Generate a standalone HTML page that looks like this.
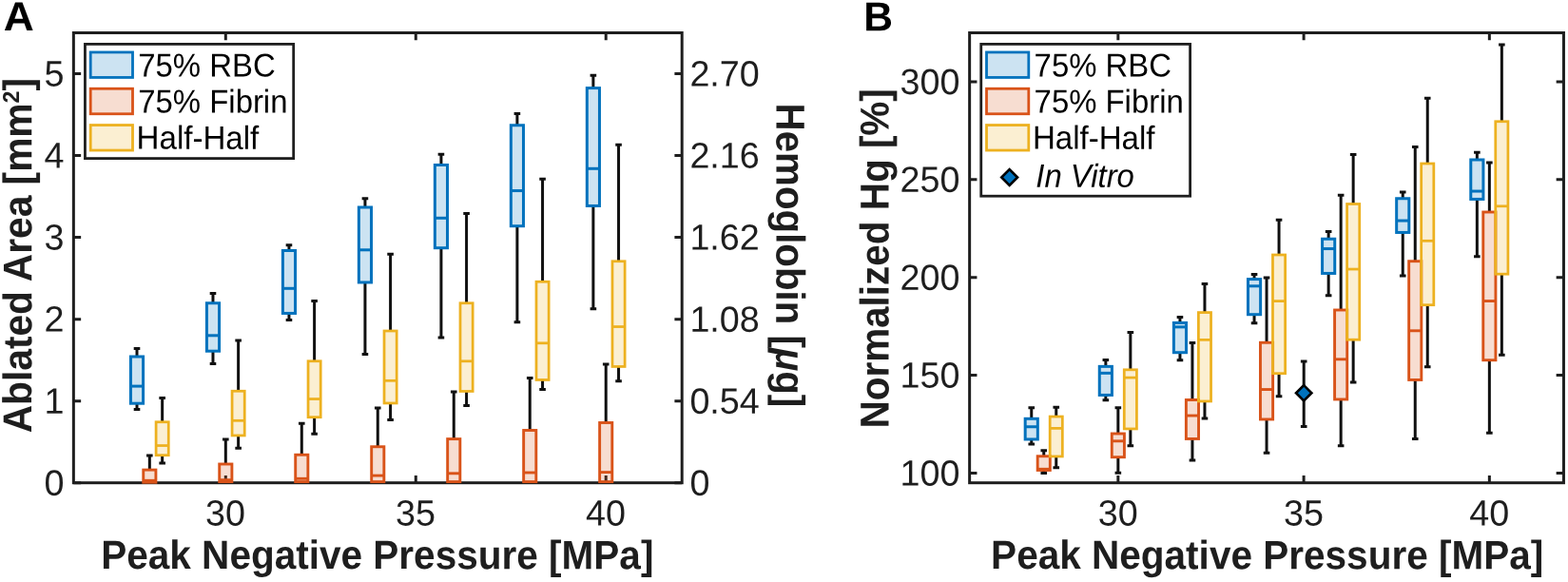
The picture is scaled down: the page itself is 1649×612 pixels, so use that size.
<!DOCTYPE html>
<html lang="en"><head><meta charset="utf-8"><title>Figure</title>
<style>
html,body{margin:0;padding:0;background:#fff;}
body{width:1649px;height:612px;overflow:hidden;}
svg{display:block;font-family:"Liberation Sans",Arial,Helvetica,sans-serif;text-rendering:geometricPrecision;}
.ax{fill:none;stroke:#1e1e1e;stroke-width:3;stroke-linecap:butt;stroke-linejoin:miter;}
.w{fill:none;stroke:#101010;stroke-width:3;}
.tk{font-size:38.1px;fill:#1e1e1e;}
.lb{font-size:42.6px;font-weight:bold;fill:#1e1e1e;}
.lg{font-size:34.5px;fill:#000;}
.pl{font-size:43px;font-weight:bold;fill:#000;}
</style></head><body>
<svg width="1649" height="612" viewBox="0 0 1649 612">
<rect width="1649" height="612" fill="#fff"/>

<g id="panelA">
<path d="M237.31 507.70v-7.8M237.31 34.50v7.8M437.27 507.70v-7.8M437.27 34.50v7.8M637.22 507.70v-7.8M637.22 34.50v7.8M77.35 507.70h7.8M77.35 421.66h7.8M77.35 335.63h7.8M77.35 249.59h7.8M77.35 163.55h7.8M77.35 77.52h7.8M717.20 507.70h-7.8M717.20 421.66h-7.8M717.20 335.63h-7.8M717.20 249.59h-7.8M717.20 163.55h-7.8M717.20 77.52h-7.8" class="ax"/><rect x="77.35" y="34.50" width="639.85" height="473.20" class="ax"/>
<path d="M144.00 375.00V366.60M140.70 366.60h6.6" class="w"/><path d="M144.00 424.20V430.50M140.70 430.50h6.6" class="w"/><rect x="137.43" y="375.00" width="13.15" height="49.20" fill="#0072BD" fill-opacity="0.2" stroke="#0072BD" stroke-width="3.0"/><path d="M137.43 406.10h13.15" stroke="#0072BD" stroke-width="3.0" fill="none"/>
<path d="M157.33 494.10V479.10M154.03 479.10h6.6" class="w"/><rect x="150.76" y="494.10" width="13.15" height="13.10" fill="#D95319" fill-opacity="0.2" stroke="#D95319" stroke-width="2.9"/><path d="M150.76 505.30h13.15" stroke="#D95319" stroke-width="2.9" fill="none"/>
<path d="M170.66 443.75V418.50M167.36 418.50h6.6" class="w"/><path d="M170.66 478.70V486.90M167.36 486.90h6.6" class="w"/><rect x="164.09" y="443.75" width="13.15" height="34.95" fill="#EDB120" fill-opacity="0.2" stroke="#EDB120" stroke-width="2.75"/><path d="M164.09 468.55h13.15" stroke="#EDB120" stroke-width="2.75" fill="none"/>
<path d="M223.98 318.75V308.60M220.68 308.60h6.6" class="w"/><path d="M223.98 369.20V382.50M220.68 382.50h6.6" class="w"/><rect x="217.41" y="318.75" width="13.15" height="50.45" fill="#0072BD" fill-opacity="0.2" stroke="#0072BD" stroke-width="3.0"/><path d="M217.41 352.80h13.15" stroke="#0072BD" stroke-width="3.0" fill="none"/>
<path d="M237.31 488.00V461.90M234.01 461.90h6.6" class="w"/><rect x="230.74" y="488.00" width="13.15" height="18.60" fill="#D95319" fill-opacity="0.2" stroke="#D95319" stroke-width="2.9"/><path d="M230.74 504.70h13.15" stroke="#D95319" stroke-width="2.9" fill="none"/>
<path d="M250.64 411.25V358.10M247.34 358.10h6.6" class="w"/><path d="M250.64 457.95V471.30M247.34 471.30h6.6" class="w"/><rect x="244.07" y="411.25" width="13.15" height="46.70" fill="#EDB120" fill-opacity="0.2" stroke="#EDB120" stroke-width="2.75"/><path d="M244.07 442.30h13.15" stroke="#EDB120" stroke-width="2.75" fill="none"/>
<path d="M303.96 263.50V257.85M300.66 257.85h6.6" class="w"/><path d="M303.96 329.45V336.50M300.66 336.50h6.6" class="w"/><rect x="297.39" y="263.50" width="13.15" height="65.95" fill="#0072BD" fill-opacity="0.2" stroke="#0072BD" stroke-width="3.0"/><path d="M297.39 303.30h13.15" stroke="#0072BD" stroke-width="3.0" fill="none"/>
<path d="M317.29 478.25V445.35M313.99 445.35h6.6" class="w"/><rect x="310.72" y="478.25" width="13.15" height="28.35" fill="#D95319" fill-opacity="0.2" stroke="#D95319" stroke-width="2.9"/><path d="M310.72 503.30h13.15" stroke="#D95319" stroke-width="2.9" fill="none"/>
<path d="M330.62 379.75V316.60M327.32 316.60h6.6" class="w"/><path d="M330.62 438.70V456.25M327.32 456.25h6.6" class="w"/><rect x="324.05" y="379.75" width="13.15" height="58.95" fill="#EDB120" fill-opacity="0.2" stroke="#EDB120" stroke-width="2.75"/><path d="M324.05 419.55h13.15" stroke="#EDB120" stroke-width="2.75" fill="none"/>
<path d="M383.94 218.00V208.85M380.64 208.85h6.6" class="w"/><path d="M383.94 296.95V372.50M380.64 372.50h6.6" class="w"/><rect x="377.37" y="218.00" width="13.15" height="78.95" fill="#0072BD" fill-opacity="0.2" stroke="#0072BD" stroke-width="3.0"/><path d="M377.37 262.80h13.15" stroke="#0072BD" stroke-width="3.0" fill="none"/>
<path d="M397.27 469.75V429.10M393.97 429.10h6.6" class="w"/><rect x="390.70" y="469.75" width="13.15" height="36.85" fill="#D95319" fill-opacity="0.2" stroke="#D95319" stroke-width="2.9"/><path d="M390.70 500.10h13.15" stroke="#D95319" stroke-width="2.9" fill="none"/>
<path d="M410.60 348.00V267.35M407.30 267.35h6.6" class="w"/><path d="M410.60 423.95V441.40M407.30 441.40h6.6" class="w"/><rect x="404.03" y="348.00" width="13.15" height="75.95" fill="#EDB120" fill-opacity="0.2" stroke="#EDB120" stroke-width="2.75"/><path d="M404.03 400.30h13.15" stroke="#EDB120" stroke-width="2.75" fill="none"/>
<path d="M463.93 173.50V162.35M460.63 162.35h6.6" class="w"/><path d="M463.93 260.70V355.00M460.63 355.00h6.6" class="w"/><rect x="457.35" y="173.50" width="13.15" height="87.20" fill="#0072BD" fill-opacity="0.2" stroke="#0072BD" stroke-width="3.0"/><path d="M457.35 229.30h13.15" stroke="#0072BD" stroke-width="3.0" fill="none"/>
<path d="M477.26 461.60V412.10M473.96 412.10h6.6" class="w"/><rect x="470.68" y="461.60" width="13.15" height="45.00" fill="#D95319" fill-opacity="0.2" stroke="#D95319" stroke-width="2.9"/><path d="M470.68 497.80h13.15" stroke="#D95319" stroke-width="2.9" fill="none"/>
<path d="M490.59 318.75V224.60M487.29 224.60h6.6" class="w"/><path d="M490.59 411.45V426.50M487.29 426.50h6.6" class="w"/><rect x="484.01" y="318.75" width="13.15" height="92.70" fill="#EDB120" fill-opacity="0.2" stroke="#EDB120" stroke-width="2.75"/><path d="M484.01 379.80h13.15" stroke="#EDB120" stroke-width="2.75" fill="none"/>
<path d="M543.91 131.75V119.60M540.61 119.60h6.6" class="w"/><path d="M543.91 237.70V338.75M540.61 338.75h6.6" class="w"/><rect x="537.33" y="131.75" width="13.15" height="105.95" fill="#0072BD" fill-opacity="0.2" stroke="#0072BD" stroke-width="3.0"/><path d="M537.33 200.55h13.15" stroke="#0072BD" stroke-width="3.0" fill="none"/>
<path d="M557.24 452.50V397.60M553.94 397.60h6.6" class="w"/><rect x="550.66" y="452.50" width="13.15" height="54.10" fill="#D95319" fill-opacity="0.2" stroke="#D95319" stroke-width="2.9"/><path d="M550.66 497.00h13.15" stroke="#D95319" stroke-width="2.9" fill="none"/>
<path d="M570.57 296.25V188.35M567.27 188.35h6.6" class="w"/><path d="M570.57 399.45V409.50M567.27 409.50h6.6" class="w"/><rect x="563.99" y="296.25" width="13.15" height="103.20" fill="#EDB120" fill-opacity="0.2" stroke="#EDB120" stroke-width="2.75"/><path d="M563.99 360.80h13.15" stroke="#EDB120" stroke-width="2.75" fill="none"/>
<path d="M623.89 92.60V79.20M620.59 79.20h6.6" class="w"/><path d="M623.89 216.45V324.75M620.59 324.75h6.6" class="w"/><rect x="617.31" y="92.60" width="13.15" height="123.85" fill="#0072BD" fill-opacity="0.2" stroke="#0072BD" stroke-width="3.0"/><path d="M617.31 177.30h13.15" stroke="#0072BD" stroke-width="3.0" fill="none"/>
<path d="M637.22 444.50V383.10M633.92 383.10h6.6" class="w"/><rect x="630.64" y="444.50" width="13.15" height="62.10" fill="#D95319" fill-opacity="0.2" stroke="#D95319" stroke-width="2.9"/><path d="M630.64 496.60h13.15" stroke="#D95319" stroke-width="2.9" fill="none"/>
<path d="M650.55 274.75V152.35M647.25 152.35h6.6" class="w"/><path d="M650.55 385.45V400.75M647.25 400.75h6.6" class="w"/><rect x="643.97" y="274.75" width="13.15" height="110.70" fill="#EDB120" fill-opacity="0.2" stroke="#EDB120" stroke-width="2.75"/><path d="M643.97 343.55h13.15" stroke="#EDB120" stroke-width="2.75" fill="none"/>
<text class="tk" transform="translate(67.40 520.70) rotate(0.03) scale(0.99 1)" text-anchor="end">0</text>
<text class="tk" transform="translate(67.40 434.66) rotate(0.03) scale(0.99 1)" text-anchor="end">1</text>
<text class="tk" transform="translate(67.40 348.63) rotate(0.03) scale(0.99 1)" text-anchor="end">2</text>
<text class="tk" transform="translate(67.40 262.59) rotate(0.03) scale(0.99 1)" text-anchor="end">3</text>
<text class="tk" transform="translate(67.40 176.55) rotate(0.03) scale(0.99 1)" text-anchor="end">4</text>
<text class="tk" transform="translate(67.40 90.52) rotate(0.03) scale(0.99 1)" text-anchor="end">5</text>
<text class="tk" transform="translate(725.40 520.70) rotate(0.03) scale(0.99 1)">0</text>
<text class="tk" transform="translate(725.40 434.66) rotate(0.03) scale(0.99 1)">0.54</text>
<text class="tk" transform="translate(725.40 348.63) rotate(0.03) scale(0.99 1)">1.08</text>
<text class="tk" transform="translate(725.40 262.59) rotate(0.03) scale(0.99 1)">1.62</text>
<text class="tk" transform="translate(725.40 176.55) rotate(0.03) scale(0.99 1)">2.16</text>
<text class="tk" transform="translate(725.40 90.52) rotate(0.03) scale(0.99 1)">2.70</text>
<text class="tk" transform="translate(237.01 552.45) rotate(0.03) scale(0.99 1)" text-anchor="middle">30</text>
<text class="tk" transform="translate(436.97 552.45) rotate(0.03) scale(0.99 1)" text-anchor="middle">35</text>
<text class="tk" transform="translate(636.92 552.45) rotate(0.03) scale(0.99 1)" text-anchor="middle">40</text>
<text class="lb" transform="translate(396.80 598.10) rotate(0.03) scale(0.9515 1)" text-anchor="middle">Peak Negative Pressure [MPa]</text>
<text class="lb" transform="translate(33.20 268.60) rotate(-89.97) scale(0.9558 1)" text-anchor="middle">Ablated Area [mm<tspan font-size="24.4px" dy="-13.4">2</tspan><tspan dy="13.4">]</tspan></text>
<text class="lb" transform="translate(816.40 268.45) rotate(90.03) scale(0.9458 1)" text-anchor="middle">Hemoglobin [<tspan font-style="italic">μ</tspan>g]</text>
<text class="pl" transform="translate(3.80 32.00) rotate(0.03) scale(1.03 1)">A</text>
<rect x="89.45" y="46.4" width="219.25" height="120.20" fill="#fff" stroke="#1e1e1e" stroke-width="2.8"/><rect x="95.20" y="54.95" width="44.3" height="26.5" fill="#0072BD" fill-opacity="0.2" stroke="#0072BD" stroke-width="2.8"/><text class="lg" transform="translate(145.30 80.50) rotate(0.03) scale(0.953 1)">75% RBC</text><rect x="95.20" y="93.25" width="44.3" height="26.5" fill="#D95319" fill-opacity="0.2" stroke="#D95319" stroke-width="2.8"/><text class="lg" transform="translate(145.30 118.55) rotate(0.03) scale(0.953 1)">75% Fibrin</text><rect x="95.20" y="131.55" width="44.3" height="26.5" fill="#EDB120" fill-opacity="0.2" stroke="#EDB120" stroke-width="2.8"/><text class="lg" transform="translate(143.60 156.60) rotate(0.03) scale(0.958718 1)">Half-Half</text>
</g>
<g id="panelB">
<path d="M1175.85 507.70v-7.8M1175.85 34.50v7.8M1371.10 507.70v-7.8M1371.10 34.50v7.8M1566.35 507.70v-7.8M1566.35 34.50v7.8M1019.65 497.41h7.8M1019.65 394.54h7.8M1019.65 291.67h7.8M1019.65 188.80h7.8M1019.65 85.93h7.8M1644.45 497.41h-7.8M1644.45 394.54h-7.8M1644.45 291.67h-7.8M1644.45 188.80h-7.8M1644.45 85.93h-7.8" class="ax"/><rect x="1019.65" y="34.50" width="624.80" height="473.20" class="ax"/>
<path d="M1084.75 440.30V428.75M1081.45 428.75h6.6" class="w"/><path d="M1084.75 461.95V467.00M1081.45 467.00h6.6" class="w"/><rect x="1078.17" y="440.30" width="13.15" height="21.65" fill="#0072BD" fill-opacity="0.2" stroke="#0072BD" stroke-width="3.0"/><path d="M1078.17 448.76h13.15" stroke="#0072BD" stroke-width="3.0" fill="none"/>
<path d="M1097.75 479.75V473.85M1094.45 473.85h6.6" class="w"/><path d="M1097.75 494.45V497.40M1094.45 497.40h6.6" class="w"/><rect x="1091.17" y="479.75" width="13.15" height="14.70" fill="#D95319" fill-opacity="0.2" stroke="#D95319" stroke-width="2.9"/><path d="M1091.17 493.30h13.15" stroke="#D95319" stroke-width="2.9" fill="none"/>
<path d="M1110.75 438.05V428.20M1107.45 428.20h6.6" class="w"/><path d="M1110.75 479.95V491.75M1107.45 491.75h6.6" class="w"/><rect x="1104.17" y="438.05" width="13.15" height="41.90" fill="#EDB120" fill-opacity="0.2" stroke="#EDB120" stroke-width="2.75"/><path d="M1104.17 450.40h13.15" stroke="#EDB120" stroke-width="2.75" fill="none"/>
<path d="M1162.85 385.36V378.55M1159.55 378.55h6.6" class="w"/><path d="M1162.85 415.45V420.75M1159.55 420.75h6.6" class="w"/><rect x="1156.27" y="385.36" width="13.15" height="30.09" fill="#0072BD" fill-opacity="0.2" stroke="#0072BD" stroke-width="3.0"/><path d="M1156.27 392.35h13.15" stroke="#0072BD" stroke-width="3.0" fill="none"/>
<path d="M1175.85 456.00V428.85M1172.55 428.85h6.6" class="w"/><path d="M1175.85 480.70V497.25M1172.55 497.25h6.6" class="w"/><rect x="1169.27" y="456.00" width="13.15" height="24.70" fill="#D95319" fill-opacity="0.2" stroke="#D95319" stroke-width="2.9"/><path d="M1169.27 463.80h13.15" stroke="#D95319" stroke-width="2.9" fill="none"/>
<path d="M1188.85 388.82V349.60M1185.55 349.60h6.6" class="w"/><path d="M1188.85 450.95V468.75M1185.55 468.75h6.6" class="w"/><rect x="1182.27" y="388.82" width="13.15" height="62.13" fill="#EDB120" fill-opacity="0.2" stroke="#EDB120" stroke-width="2.75"/><path d="M1182.27 397.10h13.15" stroke="#EDB120" stroke-width="2.75" fill="none"/>
<path d="M1240.95 339.45V333.45M1237.65 333.45h6.6" class="w"/><path d="M1240.95 370.70V378.75M1237.65 378.75h6.6" class="w"/><rect x="1234.38" y="339.45" width="13.15" height="31.25" fill="#0072BD" fill-opacity="0.2" stroke="#0072BD" stroke-width="3.0"/><path d="M1234.38 343.85h13.15" stroke="#0072BD" stroke-width="3.0" fill="none"/>
<path d="M1253.95 420.50V360.40M1250.65 360.40h6.6" class="w"/><path d="M1253.95 461.45V484.00M1250.65 484.00h6.6" class="w"/><rect x="1247.38" y="420.50" width="13.15" height="40.95" fill="#D95319" fill-opacity="0.2" stroke="#D95319" stroke-width="2.9"/><path d="M1247.38 437.05h13.15" stroke="#D95319" stroke-width="2.9" fill="none"/>
<path d="M1266.95 328.60V298.60M1263.65 298.60h6.6" class="w"/><path d="M1266.95 421.95V440.00M1263.65 440.00h6.6" class="w"/><rect x="1260.38" y="328.60" width="13.15" height="93.35" fill="#EDB120" fill-opacity="0.2" stroke="#EDB120" stroke-width="2.75"/><path d="M1260.38 357.35h13.15" stroke="#EDB120" stroke-width="2.75" fill="none"/>
<path d="M1319.05 293.60V288.50M1315.75 288.50h6.6" class="w"/><path d="M1319.05 330.70V339.75M1315.75 339.75h6.6" class="w"/><rect x="1312.47" y="293.60" width="13.15" height="37.10" fill="#0072BD" fill-opacity="0.2" stroke="#0072BD" stroke-width="3.0"/><path d="M1312.47 300.80h13.15" stroke="#0072BD" stroke-width="3.0" fill="none"/>
<path d="M1332.05 360.25V292.00M1328.75 292.00h6.6" class="w"/><path d="M1332.05 440.95V476.25M1328.75 476.25h6.6" class="w"/><rect x="1325.47" y="360.25" width="13.15" height="80.70" fill="#D95319" fill-opacity="0.2" stroke="#D95319" stroke-width="2.9"/><path d="M1325.47 409.55h13.15" stroke="#D95319" stroke-width="2.9" fill="none"/>
<path d="M1345.05 268.00V231.35M1341.75 231.35h6.6" class="w"/><path d="M1345.05 392.70V416.75M1341.75 416.75h6.6" class="w"/><rect x="1338.47" y="268.00" width="13.15" height="124.70" fill="#EDB120" fill-opacity="0.2" stroke="#EDB120" stroke-width="2.75"/><path d="M1338.47 316.60h13.15" stroke="#EDB120" stroke-width="2.75" fill="none"/>
<path d="M1397.15 251.25V243.60M1393.85 243.60h6.6" class="w"/><path d="M1397.15 287.45V310.75M1393.85 310.75h6.6" class="w"/><rect x="1390.58" y="251.25" width="13.15" height="36.20" fill="#0072BD" fill-opacity="0.2" stroke="#0072BD" stroke-width="3.0"/><path d="M1390.58 261.55h13.15" stroke="#0072BD" stroke-width="3.0" fill="none"/>
<path d="M1410.15 326.00V205.35M1406.85 205.35h6.6" class="w"/><path d="M1410.15 419.95V468.75M1406.85 468.75h6.6" class="w"/><rect x="1403.58" y="326.00" width="13.15" height="93.95" fill="#D95319" fill-opacity="0.2" stroke="#D95319" stroke-width="2.9"/><path d="M1403.58 377.80h13.15" stroke="#D95319" stroke-width="2.9" fill="none"/>
<path d="M1423.15 214.50V162.60M1419.85 162.60h6.6" class="w"/><path d="M1423.15 357.20V402.00M1419.85 402.00h6.6" class="w"/><rect x="1416.58" y="214.50" width="13.15" height="142.70" fill="#EDB120" fill-opacity="0.2" stroke="#EDB120" stroke-width="2.75"/><path d="M1416.58 283.05h13.15" stroke="#EDB120" stroke-width="2.75" fill="none"/>
<path d="M1475.25 208.75V202.10M1471.95 202.10h6.6" class="w"/><path d="M1475.25 244.45V290.00M1471.95 290.00h6.6" class="w"/><rect x="1468.67" y="208.75" width="13.15" height="35.70" fill="#0072BD" fill-opacity="0.2" stroke="#0072BD" stroke-width="3.0"/><path d="M1468.67 232.05h13.15" stroke="#0072BD" stroke-width="3.0" fill="none"/>
<path d="M1488.25 274.70V154.60M1484.95 154.60h6.6" class="w"/><path d="M1488.25 399.45V461.50M1484.95 461.50h6.6" class="w"/><rect x="1481.67" y="274.70" width="13.15" height="124.75" fill="#D95319" fill-opacity="0.2" stroke="#D95319" stroke-width="2.9"/><path d="M1481.67 347.80h13.15" stroke="#D95319" stroke-width="2.9" fill="none"/>
<path d="M1501.25 172.00V103.35M1497.95 103.35h6.6" class="w"/><path d="M1501.25 320.70V385.75M1497.95 385.75h6.6" class="w"/><rect x="1494.67" y="172.00" width="13.15" height="148.70" fill="#EDB120" fill-opacity="0.2" stroke="#EDB120" stroke-width="2.75"/><path d="M1494.67 253.30h13.15" stroke="#EDB120" stroke-width="2.75" fill="none"/>
<path d="M1553.35 168.00V160.35M1550.05 160.35h6.6" class="w"/><path d="M1553.35 209.45V269.75M1550.05 269.75h6.6" class="w"/><rect x="1546.77" y="168.00" width="13.15" height="41.45" fill="#0072BD" fill-opacity="0.2" stroke="#0072BD" stroke-width="3.0"/><path d="M1546.77 201.05h13.15" stroke="#0072BD" stroke-width="3.0" fill="none"/>
<path d="M1566.35 223.00V171.10M1563.05 171.10h6.6" class="w"/><path d="M1566.35 378.70V455.25M1563.05 455.25h6.6" class="w"/><rect x="1559.77" y="223.00" width="13.15" height="155.70" fill="#D95319" fill-opacity="0.2" stroke="#D95319" stroke-width="2.9"/><path d="M1559.77 316.55h13.15" stroke="#D95319" stroke-width="2.9" fill="none"/>
<path d="M1579.35 127.75V46.90M1576.05 46.90h6.6" class="w"/><path d="M1579.35 288.20V373.25M1576.05 373.25h6.6" class="w"/><rect x="1572.77" y="127.75" width="13.15" height="160.45" fill="#EDB120" fill-opacity="0.2" stroke="#EDB120" stroke-width="2.75"/><path d="M1572.77 216.80h13.15" stroke="#EDB120" stroke-width="2.75" fill="none"/>
<path d="M1371.2 380V448.5M1367.9 380h6.6M1367.9 448.5h6.6" class="w"/>
<path d="M1371.2 405.05L1379.4 413.25L1371.2 421.45L1363.0 413.25Z" fill="#0072BD" stroke="#000" stroke-width="2.6"/>
<text class="tk" transform="translate(1009.50 510.41) rotate(0.03) scale(0.99 1)" text-anchor="end">100</text>
<text class="tk" transform="translate(1009.50 407.54) rotate(0.03) scale(0.99 1)" text-anchor="end">150</text>
<text class="tk" transform="translate(1009.50 304.67) rotate(0.03) scale(0.99 1)" text-anchor="end">200</text>
<text class="tk" transform="translate(1009.50 201.80) rotate(0.03) scale(0.99 1)" text-anchor="end">250</text>
<text class="tk" transform="translate(1009.50 98.93) rotate(0.03) scale(0.99 1)" text-anchor="end">300</text>
<text class="tk" transform="translate(1175.75 552.45) rotate(0.03) scale(0.99 1)" text-anchor="middle">30</text>
<text class="tk" transform="translate(1371.00 552.45) rotate(0.03) scale(0.99 1)" text-anchor="middle">35</text>
<text class="tk" transform="translate(1566.25 552.45) rotate(0.03) scale(0.99 1)" text-anchor="middle">40</text>
<text class="lb" transform="translate(1332.70 598.20) rotate(0.03) scale(0.9515 1)" text-anchor="middle">Peak Negative Pressure [MPa]</text>
<text class="lb" transform="translate(934.50 271.85) rotate(-89.97) scale(0.9496 1)" text-anchor="middle">Normalized Hg [%]</text>
<text class="pl" transform="translate(908.30 32.35) rotate(0.03) scale(0.99 1)">B</text>
<rect x="1031.75" y="46.4" width="219.85" height="159.80" fill="#fff" stroke="#1e1e1e" stroke-width="2.8"/><rect x="1037.50" y="54.95" width="44.3" height="26.5" fill="#0072BD" fill-opacity="0.2" stroke="#0072BD" stroke-width="2.8"/><text class="lg" transform="translate(1087.60 80.50) rotate(0.03) scale(0.953 1)">75% RBC</text><rect x="1037.50" y="93.25" width="44.3" height="26.5" fill="#D95319" fill-opacity="0.2" stroke="#D95319" stroke-width="2.8"/><text class="lg" transform="translate(1087.60 118.55) rotate(0.03) scale(0.953 1)">75% Fibrin</text><rect x="1037.50" y="131.55" width="44.3" height="26.5" fill="#EDB120" fill-opacity="0.2" stroke="#EDB120" stroke-width="2.8"/><text class="lg" transform="translate(1085.90 156.60) rotate(0.03) scale(0.958718 1)">Half-Half</text><path d="M1061.66 178.1L1070.0600000000002 186.5L1061.66 194.9L1053.26 186.5Z" fill="#0072BD" stroke="#000" stroke-width="2.6"/><text class="lg" transform="translate(1089.30 196.70) rotate(0.03) scale(0.953 1)" font-style="italic">In Vitro</text>
</g>
</svg>
</body></html>
